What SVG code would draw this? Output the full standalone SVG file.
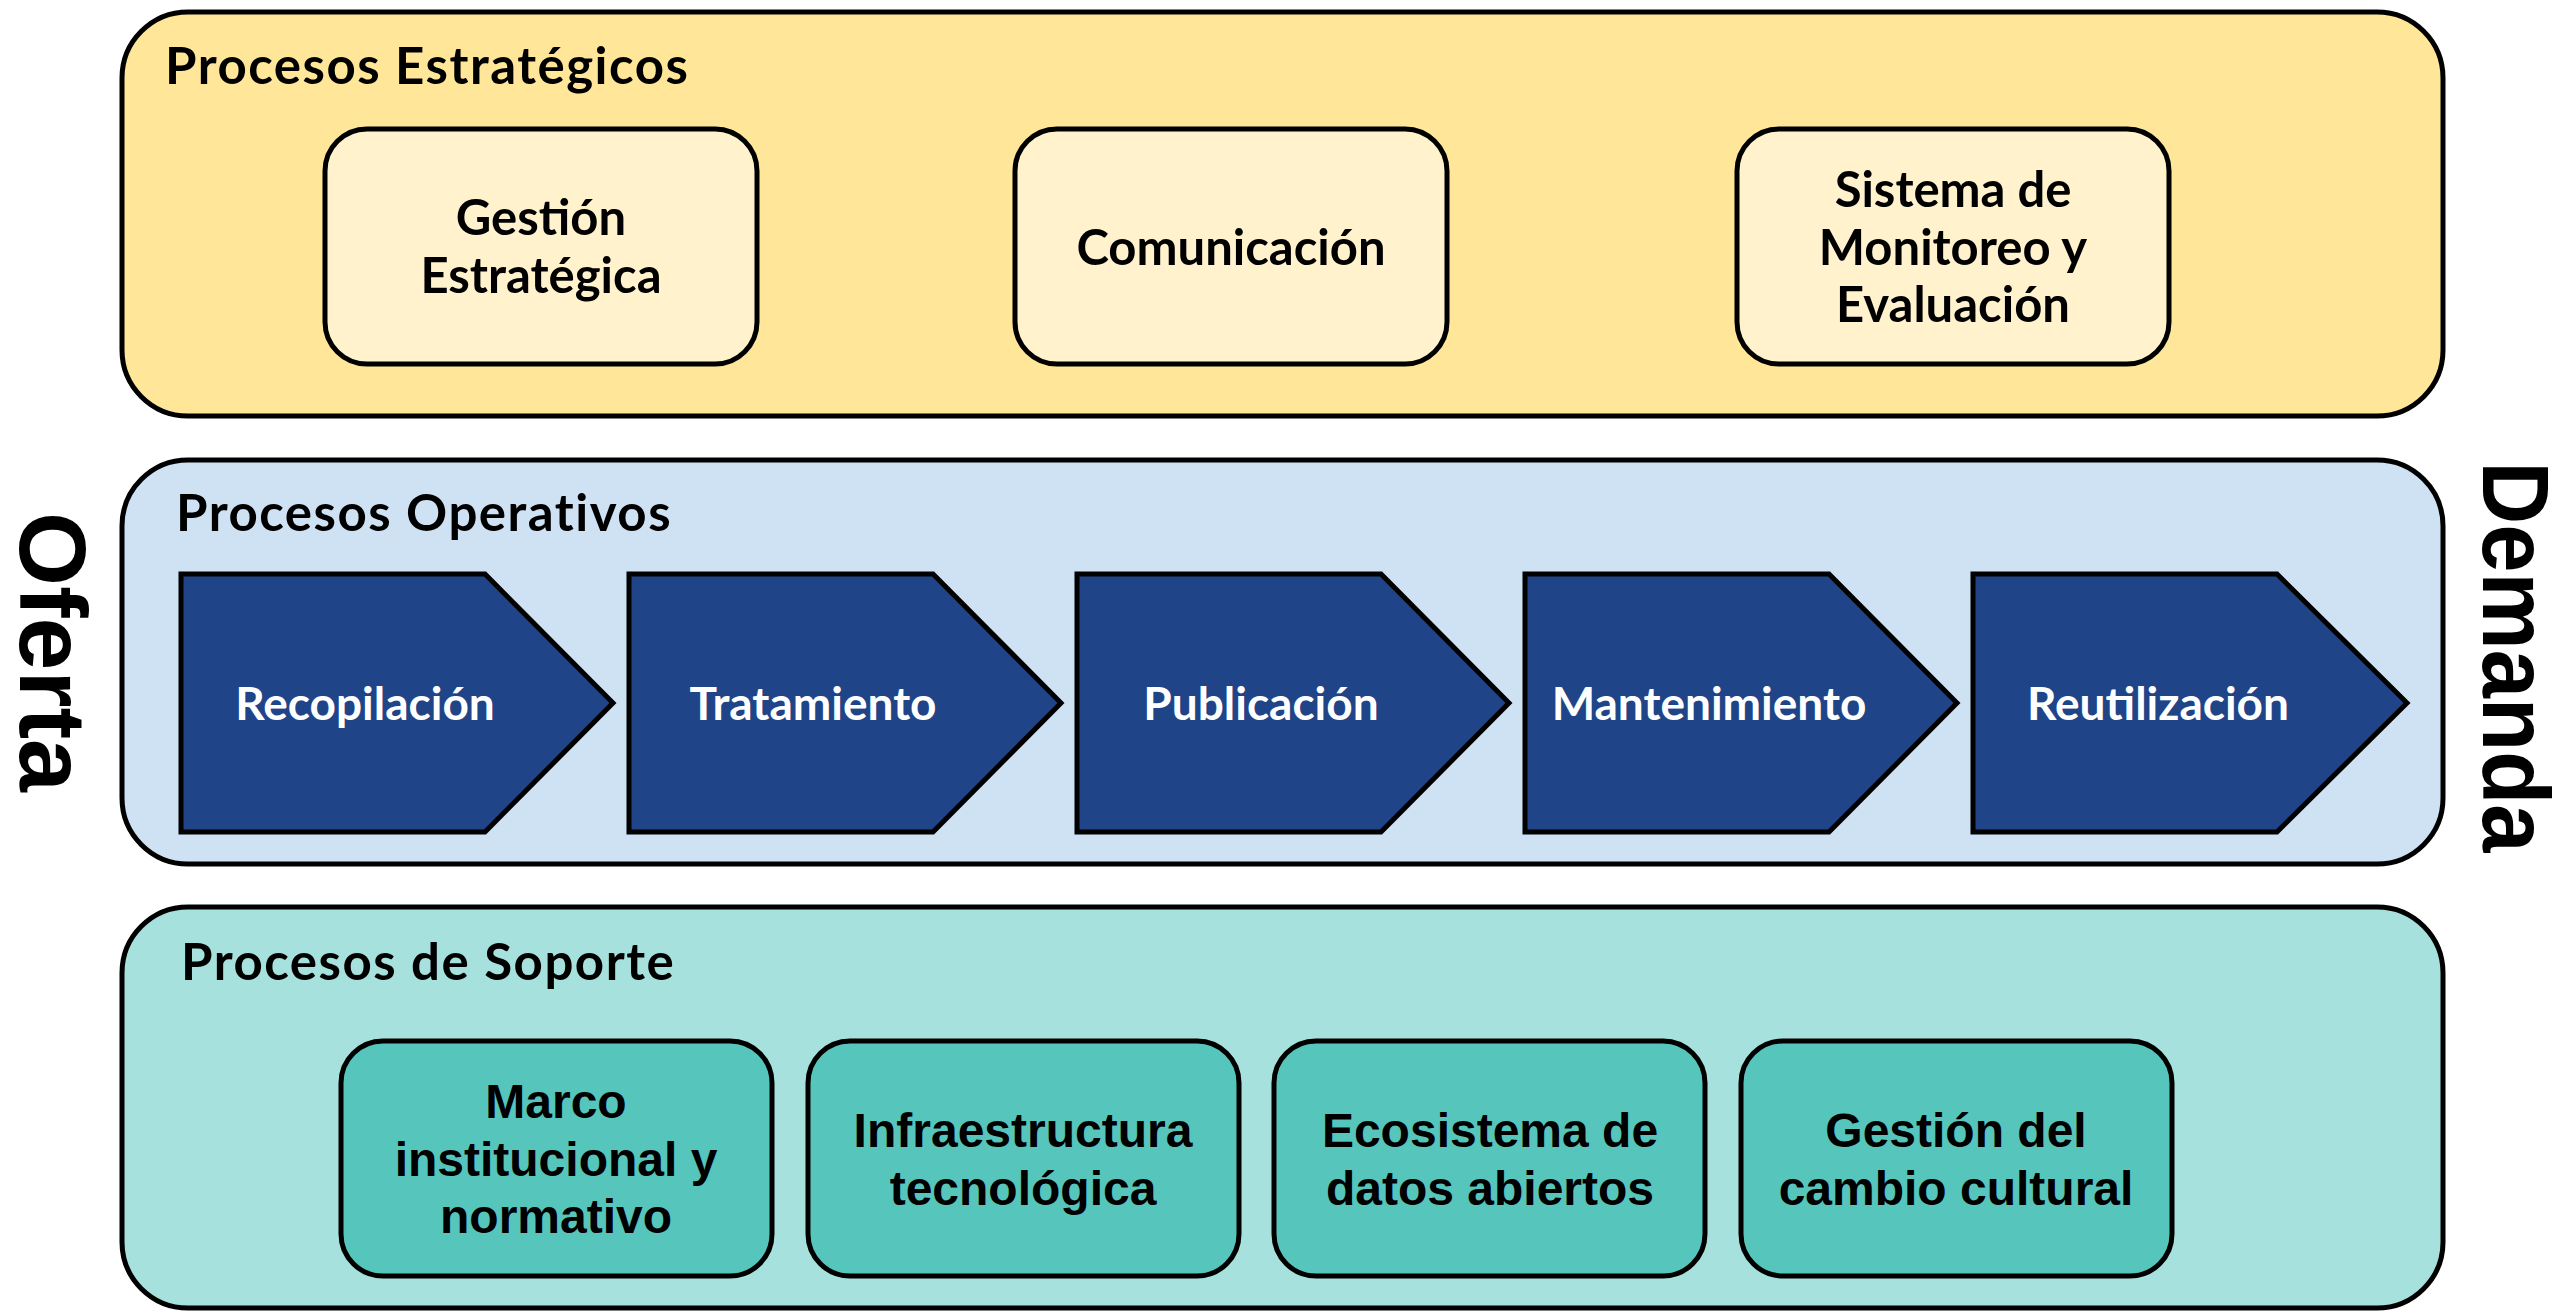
<svg xmlns="http://www.w3.org/2000/svg" width="2562" height="1311" viewBox="0 0 2562 1311">
<style>
.band{stroke:#000;stroke-width:5}
.box{stroke:#000;stroke-width:5}
.chev{fill:#1F4588;stroke:#000;stroke-width:5;stroke-linejoin:miter}
.title{font-family:Lato,"Liberation Sans",sans-serif;font-weight:700;font-size:51px;letter-spacing:1.5px;fill:#000}
.lt{font-family:Lato,"Liberation Sans",sans-serif;font-weight:700;font-size:49px;fill:#000;text-anchor:middle}
.ct{font-family:Lato,"Liberation Sans",sans-serif;font-weight:700;font-size:46px;fill:#fff;text-anchor:middle}
.st{font-family:"Liberation Sans",Arial,sans-serif;font-weight:700;font-size:48px;fill:#000;text-anchor:middle}
.side{font-family:"Liberation Sans",Arial,sans-serif;font-weight:700;font-size:95px;fill:#000;text-anchor:middle}
</style>
<rect width="2562" height="1311" fill="#fff"/>
<g id="band-estrategicos">
<rect class="band" x="122" y="12" width="2321" height="404" rx="66" fill="#FFE699"/>
<text class="title" x="165" y="84">Procesos Estratégicos</text>
</g>
<g id="gestion-estrategica">
<rect class="box" x="325" y="129" width="432" height="235" rx="42" fill="#FFF2CC"/>
<text class="lt" x="541" y="235">Gestión</text>
<text class="lt" x="541" y="293">Estratégica</text>
</g>
<g id="comunicacion">
<rect class="box" x="1015" y="129" width="432" height="235" rx="42" fill="#FFF2CC"/>
<text class="lt" x="1231" y="265">Comunicación</text>
</g>
<g id="monitoreo">
<rect class="box" x="1737" y="129" width="432" height="235" rx="42" fill="#FFF2CC"/>
<text class="lt" x="1953" y="207">Sistema de</text>
<text class="lt" x="1953" y="265">Monitoreo y</text>
<text class="lt" x="1953" y="322">Evaluación</text>
</g>
<g id="band-operativos">
<rect class="band" x="122" y="460" width="2321" height="404" rx="66" fill="#CFE2F3"/>
<text class="title" x="176" y="531">Procesos Operativos</text>
</g>
<g id="recopilacion">
<polygon class="chev" points="181,574 485,574 613,703 485,832 181,832"/>
<text class="ct" x="365" y="720">Recopilación</text>
</g>
<g id="tratamiento">
<polygon class="chev" points="629,574 933,574 1061,703 933,832 629,832"/>
<text class="ct" x="813" y="720">Tratamiento</text>
</g>
<g id="publicacion">
<polygon class="chev" points="1077,574 1381,574 1509,703 1381,832 1077,832"/>
<text class="ct" x="1261" y="720">Publicación</text>
</g>
<g id="mantenimiento">
<polygon class="chev" points="1525,574 1829,574 1957,703 1829,832 1525,832"/>
<text class="ct" x="1709" y="720">Mantenimiento</text>
</g>
<g id="reutilizacion">
<polygon class="chev" points="1973,574 2277,574 2407,703 2277,832 1973,832"/>
<text class="ct" x="2158" y="720">Reutilización</text>
</g>
<g id="band-soporte">
<rect class="band" x="122" y="907" width="2321" height="401" rx="66" fill="#A7E1DD"/>
<text class="title" x="181" y="980">Procesos de Soporte</text>
</g>
<g id="marco">
<rect class="box" x="341" y="1041" width="431" height="235" rx="42" fill="#56C6BD"/>
<text class="st" x="556" y="1118">Marco</text>
<text class="st" x="556" y="1176">institucional y</text>
<text class="st" x="556" y="1233">normativo</text>
</g>
<g id="infraestructura">
<rect class="box" x="808" y="1041" width="431" height="235" rx="42" fill="#56C6BD"/>
<text class="st" x="1023" y="1147">Infraestructura</text>
<text class="st" x="1023" y="1205">tecnológica</text>
</g>
<g id="ecosistema">
<rect class="box" x="1274" y="1041" width="431" height="235" rx="42" fill="#56C6BD"/>
<text class="st" x="1490" y="1147">Ecosistema de</text>
<text class="st" x="1490" y="1205">datos abiertos</text>
</g>
<g id="cambio-cultural">
<rect class="box" x="1741" y="1041" width="431" height="235" rx="42" fill="#56C6BD"/>
<text class="st" x="1956" y="1147">Gestión del</text>
<text class="st" x="1956" y="1205">cambio cultural</text>
</g>
<g id="oferta">
<text class="side" transform="translate(20,652) rotate(90)">Oferta</text>
</g>
<g id="demanda">
<text class="side" transform="translate(2483,657) rotate(90)" textLength="391" lengthAdjust="spacingAndGlyphs" x="-195.5" style="text-anchor:start">Demanda</text>
</g>
<g id="connectors"></g>
</svg>
